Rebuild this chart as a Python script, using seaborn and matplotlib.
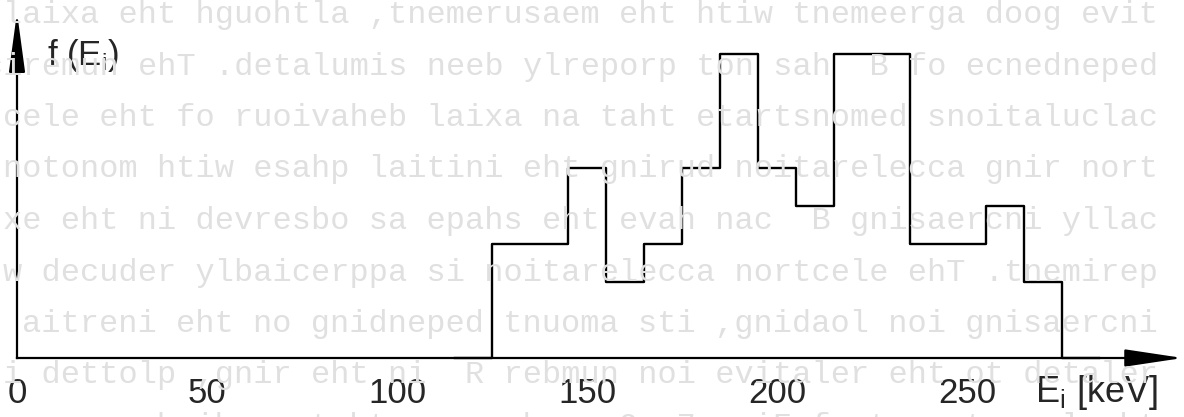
import numpy as np
import pandas as pd
import seaborn as sns
import matplotlib.pyplot as plt

# histogram of ion energies, 10 keV wide bins (empty bins at both ends close the outline)
bin_edges = [115, 125, 135, 145, 155, 165, 175, 185, 195, 205, 215, 225, 235, 245, 255, 265, 275, 285]
counts = [0, 3, 3, 5, 2, 3, 5, 8, 5, 4, 8, 8, 3, 3, 4, 2, 0]
xticks = [0, 50, 100, 150, 200, 250]
xtick_labels = ['0', '50', '100', '150', '200', '250']

# faint text showing through (mirrored) from the back of the page
bleed_lines = [
    "tive good agreement with the measurement, although the axial",
    "dependence of B  has not properly been simulated. The numeric",
    "calculations demonstrate that an axial behaviour of the elec",
    "tron ring acceleration during the initial phase with monoton",
    "cally increasing B  can have the shape as observed in the ex",
    "periment. The electron acceleration is appreciably reduced w",
    "increasing ion loading, its amount depending on the inertia",
    "related to the relative ion number R  in the ring, plotted i",
    "the lowest part of Fig. 7. One observes that as high as",
]

sns.set_style('white')
plt.rcParams['font.family'] = ['Liberation Sans', 'DejaVu Sans']
plt.rcParams['mathtext.fontset'] = 'custom'
plt.rcParams['mathtext.rm'] = 'Liberation Sans'

centers = [(a + b) / 2 for a, b in zip(bin_edges[:-1], bin_edges[1:])]
df = pd.DataFrame({'E': centers, 'n': counts})

fig = plt.figure(figsize=(11.84, 4.17), dpi=100)
ax = fig.add_axes([0, 0, 1, 1])
ax.set_xlim(-17 / 3.8, (1184 - 17) / 3.8)
ax.set_ylim(-59 / 38, 358 / 38)

# background show-through text, reversed because it is seen from behind
for i, line in enumerate(bleed_lines):
    fig.text(1158 / 1184, 1 - (15 + i * 51.5) / 417, line[::-1], family='Liberation Mono',
             fontsize=23, color='#e0e0e0', va='center', ha='right', zorder=0)

sns.histplot(data=df, x='E', weights='n', bins=bin_edges, element='step', fill=False,
             color='black', linewidth=1.7, ax=ax)

# axes through the origin
for s in ['top', 'right']:
    ax.spines[s].set_visible(False)
ax.spines['bottom'].set_position(('data', 0))
ax.spines['left'].set_position(('data', 0))
ax.spines['bottom'].set_bounds(0, 296)
ax.spines['left'].set_bounds(0, 8.0)
for s in ['bottom', 'left']:
    ax.spines[s].set_linewidth(1.6)
    ax.spines[s].set_color('black')

ax.set_xticks(xticks)
ax.set_xticklabels(xtick_labels)
ax.set_yticks([])
ax.tick_params(axis='x', direction='inout', length=17, width=1.5, labelsize=25, pad=5)
ax.xaxis.get_major_ticks()[0].tick1line.set_visible(False)
ax.set_xlabel('')
ax.set_ylabel('')

# arrow heads
ax.annotate('', xy=(306.8, 0), xytext=(292, 0),
            arrowprops=dict(arrowstyle='-|>,head_length=1.8,head_width=0.27', color='black',
                            lw=1.6, mutation_scale=20, shrinkA=0, shrinkB=0))
ax.annotate('', xy=(0, 9.1), xytext=(0, 7.5),
            arrowprops=dict(arrowstyle='-|>,head_length=1.85,head_width=0.25', color='black',
                            lw=1.6, mutation_scale=20, shrinkA=0, shrinkB=0))

ax.text(8, 7.95, r'f $(\mathregular{E_i})$', fontsize=25, ha='left', va='center')
ax.text(268, -0.9, r'$\mathregular{E_i}$ [keV]', fontsize=26, ha='left', va='center')

fig.savefig('out.png', dpi=100)
